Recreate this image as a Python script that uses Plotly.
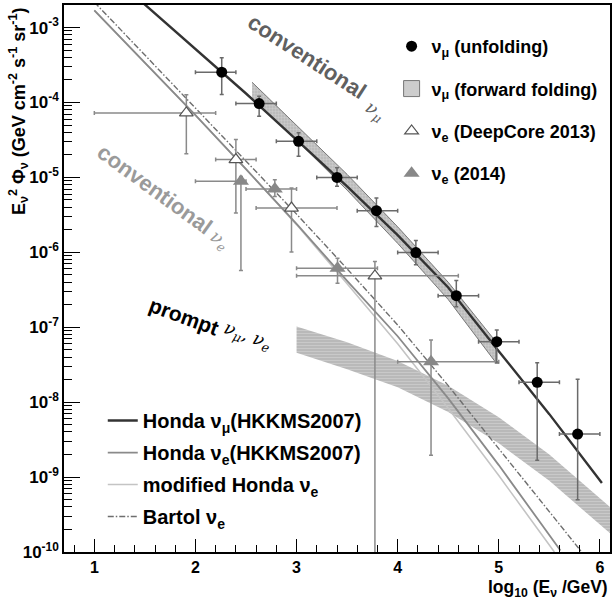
import plotly.graph_objects as go

# ---------------- data ----------------
# nu_mu unfolding (black circles)
mu_x = [2.26, 2.63, 3.02, 3.40, 3.79, 4.18, 4.58, 4.98, 5.38, 5.78]
mu_xlo = [2.0, 2.4, 2.8, 3.2, 3.6, 4.0, 4.4, 4.8, 5.2, 5.6]
mu_xhi = [2.4, 2.8, 3.2, 3.6, 4.0, 4.4, 4.8, 5.2, 5.6, 6.0]
mu_flux = [2.54e-4, 9.66e-5, 3.03e-5, 1.0e-5, 3.59e-6, 9.93e-7, 2.64e-7, 6.41e-8, 1.84e-8, 3.75e-9]
mu_up = [3.94e-4, 1.21e-4, 3.93e-5, 1.35e-5, 5.31e-6, 1.44e-6, 4.20e-7, 9.20e-8, 3.37e-8, 2.02e-8]
mu_dn = [1.28e-4, 6.55e-5, 1.91e-5, 7.59e-6, 2.21e-6, 6.81e-7, 1.88e-7, 3.33e-8, 1.68e-9, 5.0e-10]

# nu_e DeepCore 2013 (open triangles)
dc_x = [1.91, 2.40, 2.95, 3.775]
dc_xlo = [1.0, 2.2, 2.6, 3.0]
dc_xhi = [2.2, 2.6, 3.4, 4.6]
dc_flux = [7.26e-5, 1.73e-5, 3.90e-6, 4.85e-7]
dc_up = [1.27e-4, 3.20e-5, 7.21e-6, 7.53e-7]
dc_dn = [2.07e-5, 3.34e-6, 1.01e-6, 1e-12]

# nu_e 2014 (filled triangles)
e14_x = [2.45, 2.785, 3.405, 4.33]
e14_xlo = [2.0, 2.5, 3.0, 4.0]
e14_xhi = [2.5, 3.0, 3.8, 5.0]
e14_flux = [8.85e-6, 7.0e-6, 6.15e-7, 3.47e-8]
e14_up = [1.03e-5, 9.31e-6, 8.36e-7, 6.76e-8]
e14_dn = [5.71e-7, 5.57e-6, 3.87e-7, 1.96e-9]

# model curves (log10 of flux)
honda_mu_x = [1.0, 1.5, 2.0, 2.5, 3.0, 3.5, 4.0, 4.5, 5.0, 5.5, 6.02]
honda_mu_log = [-2.10, -2.69, -3.28, -3.88, -4.50, -5.12, -5.77, -6.47, -7.32, -8.16, -9.08]

honda_e_x = [1.0, 1.5, 2.0, 2.5, 3.0, 3.5, 4.0, 4.5, 5.0, 5.61]
honda_e_log = [-2.77, -3.47, -4.17, -4.89, -5.62, -6.38, -7.12, -7.95, -8.84, -9.98]

mod_e_x = [1.0, 1.5, 2.0, 2.5, 3.0, 3.5, 4.0, 4.5, 5.0, 5.55]
mod_e_log = [-2.77, -3.47, -4.17, -4.89, -5.63, -6.42, -7.22, -8.08, -8.98, -10.0]

bartol_x = [1.0, 1.5, 2.0, 2.5, 3.0, 3.5, 4.0, 4.5, 5.0, 5.5, 5.82]
bartol_log = [-2.66, -3.37, -4.08, -4.78, -5.49, -6.22, -6.97, -7.78, -8.62, -9.46, -10.0]

# nu_mu forward folding band (log10)
ff_x = [2.56, 3.0, 3.5, 4.0, 4.5, 4.97]
ff_up = [-3.73, -4.30, -4.96, -5.66, -6.40, -7.19]
ff_lo = [-3.96, -4.50, -5.17, -5.88, -6.63, -7.47]

# prompt band (log10)
pr_x = [3.0, 3.5, 4.0, 4.5, 5.0, 5.5, 6.1]
pr_up = [-6.99, -7.20, -7.45, -7.78, -8.20, -8.70, -9.40]
pr_lo = [-7.34, -7.56, -7.80, -8.13, -8.55, -9.05, -9.75]

# axis ticks
y_tick_exp = [-10, -9, -8, -7, -6, -5, -4, -3]
x_ticks = [1, 2, 3, 4, 5, 6]


def pw(v):
    return [10 ** a for a in v]


def diff(a, b):
    return [p - q for p, q in zip(a, b)]


FONT = "Liberation Sans"
fig = go.Figure()

# prompt band
fig.add_trace(go.Scatter(
    x=pr_x + pr_x[::-1], y=pw(pr_up + pr_lo[::-1]),
    mode="lines", fill="toself", line=dict(width=0, color="rgba(0,0,0,0)"),
    fillcolor="#bcbcbc",
    fillpattern=dict(shape="-", fgcolor="#dcdcdc", bgcolor="#b9b9b9", size=3, solidity=0.3),
    showlegend=False, hoverinfo="skip"))

# forward folding band
fig.add_trace(go.Scatter(
    x=ff_x + ff_x[::-1], y=pw(ff_up + ff_lo[::-1]),
    mode="lines", fill="toself", line=dict(width=1, color="#777777"),
    fillcolor="#c8c8c8",
    fillpattern=dict(shape="+", fgcolor="#e2e2e2", bgcolor="#bcbcbc", size=3, solidity=0.3),
    showlegend=False, hoverinfo="skip"))
# legend entry for the band (box symbol)
fig.add_trace(go.Scatter(
    x=[None], y=[None], mode="markers",
    marker=dict(symbol="square", size=26, color="#cdcdcd", line=dict(color="#777777", width=1)),
    name="ν<sub>μ</sub> (forward folding)", legend="legend", legendgroup="ff", legendrank=2))

# model lines
fig.add_trace(go.Scatter(x=mod_e_x, y=pw(mod_e_log), mode="lines",
                         line=dict(color="#c4c4c4", width=1.6),
                         name="modified Honda ν<sub>e</sub>", legend="legend2",
                         legendgroup="mod", legendrank=3))
fig.add_trace(go.Scatter(x=honda_e_x, y=pw(honda_e_log), mode="lines",
                         line=dict(color="#8a8a8a", width=1.8),
                         name="Honda ν<sub>e</sub>(HKKMS2007)", legend="legend2",
                         legendgroup="he", legendrank=2))
fig.add_trace(go.Scatter(x=bartol_x, y=pw(bartol_log), mode="lines",
                         line=dict(color="#6e6e6e", width=1.4, dash="6px,2px,1.5px,2px"),
                         name="Bartol ν<sub>e</sub>", legend="legend2",
                         legendgroup="ba", legendrank=4))
fig.add_trace(go.Scatter(x=honda_mu_x, y=pw(honda_mu_log), mode="lines",
                         line=dict(color="#333333", width=2.4),
                         name="Honda ν<sub>μ</sub>(HKKMS2007)", legend="legend2",
                         legendgroup="hm", legendrank=1))

# data points
fig.add_trace(go.Scatter(
    x=dc_x, y=dc_flux, mode="markers",
    marker=dict(symbol="triangle-up", size=12, color="white", line=dict(color="#555555", width=1.2)),
    error_x=dict(type="data", array=diff(dc_xhi, dc_x), arrayminus=diff(dc_x, dc_xlo),
                 color="#8a8a8a", thickness=1.5, width=2),
    error_y=dict(type="data", array=diff(dc_up, dc_flux), arrayminus=diff(dc_flux, dc_dn),
                 color="#8a8a8a", thickness=1.5, width=2),
    name="ν<sub>e</sub> (DeepCore 2013)", legend="legend", legendgroup="dc", legendrank=3))
fig.add_trace(go.Scatter(
    x=e14_x, y=e14_flux, mode="markers",
    marker=dict(symbol="triangle-up", size=14, color="#888888"),
    error_x=dict(type="data", array=diff(e14_xhi, e14_x), arrayminus=diff(e14_x, e14_xlo),
                 color="#8a8a8a", thickness=1.5, width=2),
    error_y=dict(type="data", array=diff(e14_up, e14_flux), arrayminus=diff(e14_flux, e14_dn),
                 color="#8a8a8a", thickness=1.5, width=2),
    name="ν<sub>e</sub> (2014)", legend="legend", legendgroup="e14", legendrank=4))
fig.add_trace(go.Scatter(
    x=mu_x, y=mu_flux, mode="markers",
    marker=dict(symbol="circle", size=11, color="black"),
    error_x=dict(type="data", array=diff(mu_xhi, mu_x), arrayminus=diff(mu_x, mu_xlo),
                 color="#6a6a6a", thickness=1.5, width=2),
    error_y=dict(type="data", array=diff(mu_up, mu_flux), arrayminus=diff(mu_flux, mu_dn),
                 color="#6a6a6a", thickness=1.5, width=2),
    name="ν<sub>μ</sub> (unfolding)", legend="legend", legendgroup="mu", legendrank=1))

# annotations
ann = []
ann.append(dict(x=3.10, y=-3.39, xref="x", yref="y", text="<b>conventional</b>", showarrow=False,
                textangle=33, font=dict(family=FONT, size=22, color="#606060")))
ann.append(dict(x=3.77, y=-4.12, xref="x", yref="y", text="<i>ν<sub>μ</sub></i>", showarrow=False,
                textangle=33, font=dict(family="DejaVu Serif", size=18, color="#606060")))
ann.append(dict(x=1.60, y=-5.16, xref="x", yref="y", text="<b>conventional</b>", showarrow=False,
                textangle=36, font=dict(family=FONT, size=22, color="#9a9a9a")))
ann.append(dict(x=2.23, y=-5.84, xref="x", yref="y", text="<i>ν<sub>e</sub></i>", showarrow=False,
                textangle=36, font=dict(family="DejaVu Serif", size=18, color="#9a9a9a")))
ann.append(dict(x=1.89, y=-6.85, xref="x", yref="y", text="<b>prompt</b>", showarrow=False,
                textangle=20, font=dict(family=FONT, size=21, color="black")))
ann.append(dict(x=2.51, y=-7.12, xref="x", yref="y", text="<i>ν<sub>μ</sub>, ν<sub>e</sub></i>",
                showarrow=False, textangle=20,
                font=dict(family="DejaVu Serif", size=18, color="black")))
# axis titles
ann.append(dict(x=1.0, y=-0.066, xref="paper", yref="paper", xanchor="right", yanchor="middle",
                text="<b>log<sub>10</sub> (E<sub>ν</sub> /GeV)</b>", showarrow=False,
                font=dict(family=FONT, size=17.5, color="black")))
ann.append(dict(x=0, y=1.0, xref="paper", yref="paper", xshift=-46, xanchor="center", yanchor="top",
                text="<b>E<sub>ν</sub><sup>2</sup> Φ<sub>ν</sub> (GeV cm<sup>-2</sup> s<sup>-1</sup> sr<sup>-1</sup>)</b>",
                showarrow=False, textangle=-90,
                font=dict(family=FONT, size=18, color="black")))

minor_y = []
for e in range(-10, -2):
    for k in range(2, 10):
        minor_y.append(k * 10 ** e)

fig.update_layout(
    width=614, height=604,
    margin=dict(l=64, r=2, t=5, b=52),
    paper_bgcolor="white", plot_bgcolor="white",
    annotations=ann,
    xaxis=dict(range=[0.7, 6.1], tickvals=x_ticks, ticks="inside", ticklen=13, tickwidth=1.3,
               tickcolor="black", showgrid=False, zeroline=False, showline=True, linecolor="black",
               linewidth=1.6, mirror=True,
               tickfont=dict(family=FONT, size=16, color="black", weight="bold"),
               minor=dict(dtick=0.2, tick0=0, ticks="inside", ticklen=7, tickwidth=1, tickcolor="black",
                          showgrid=False)),
    yaxis=dict(type="log", range=[-10, -2.699],
               tickvals=[10 ** e for e in y_tick_exp],
               ticktext=["10<sup>%d</sup>" % e for e in y_tick_exp],
               ticks="inside", ticklen=16, tickwidth=1.3, tickcolor="black",
               showgrid=False, zeroline=False, showline=True, linecolor="black",
               linewidth=1.6, mirror=True,
               tickfont=dict(family=FONT, size=17, color="black", weight="bold"),
               minor=dict(tickvals=minor_y, ticks="inside", ticklen=8, tickwidth=1, tickcolor="black",
                          showgrid=False)),
    legend=dict(x=0.6, y=0.958, xanchor="left", yanchor="top", bgcolor="rgba(0,0,0,0)",
                font=dict(family=FONT, size=18, color="black", weight="bold"),
                tracegroupgap=16, traceorder="grouped"),
    legend2=dict(x=0.071, y=0.276, xanchor="left", yanchor="top", bgcolor="rgba(0,0,0,0)",
                 font=dict(family=FONT, size=20, color="black", weight="bold"),
                 tracegroupgap=3, traceorder="grouped"),
)

fig.write_html("out.html", config={"displayModeBar": False},
               post_script="document.body.style.margin='0px';document.body.style.overflow='hidden';")
